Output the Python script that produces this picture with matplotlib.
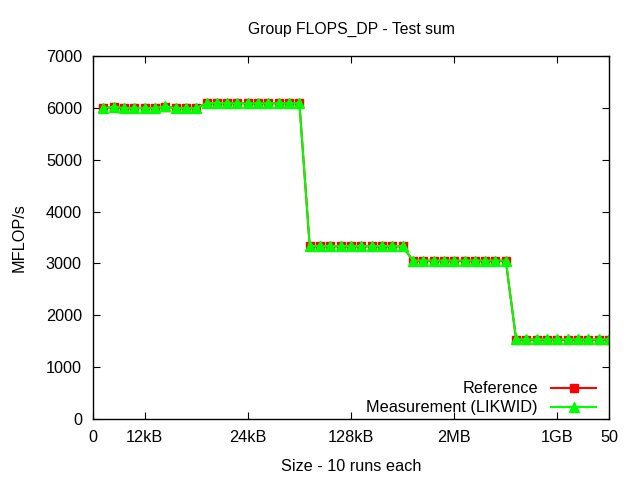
import numpy as np
import matplotlib
matplotlib.use("Agg")
import matplotlib.pyplot as plt

plt.rcParams['font.family'] = ['Liberation Sans', 'DejaVu Sans']

# run index 1..50, 10 runs per size
runs = np.arange(1, 51)

reference = [5990, 6020, 5990, 5995, 6000, 5995, 6025, 5995, 5995, 5995,
             6090, 6090, 6090, 6090, 6090, 6090, 6090, 6090, 6090, 6090,
             3330, 3330, 3330, 3330, 3330, 3330, 3330, 3330, 3330, 3330,
             3050, 3050, 3050, 3050, 3050, 3050, 3050, 3050, 3050, 3050,
             1530, 1530, 1530, 1530, 1530, 1530, 1530, 1530, 1530, 1530]
measurement = [5995, 6025, 5995, 5995, 6000, 5995, 6030, 5995, 5995, 5995,
               6090, 6095, 6090, 6090, 6090, 6090, 6090, 6090, 6090, 6090,
               3335, 3335, 3335, 3335, 3335, 3335, 3335, 3335, 3335, 3335,
               3055, 3055, 3055, 3055, 3055, 3055, 3055, 3055, 3055, 3055,
               1535, 1535, 1535, 1535, 1535, 1535, 1535, 1535, 1535, 1535]

xtick_pos = [0, 5, 15, 25, 35, 45, 50]
xtick_labels = ['0', '12kB', '24kB', '128kB', '2MB', '1GB', '50']

fs = 11.7

fig = plt.figure(figsize=(6.4, 4.8), dpi=100)
ax = fig.add_axes([0.1453, 0.1271, 0.8063, 0.7562])

ax.plot(runs, reference, color='#ff0000', marker='s', markersize=5.5,
        linewidth=1.5, label='Reference')
ax.plot(runs, measurement, color='#00ff00', marker='^', markersize=7,
        linewidth=1.5, label='Measurement (LIKWID)')

ax.set_xlim(0, 50)
ax.set_ylim(0, 7000)
ax.set_xticks(xtick_pos)
ax.set_xticklabels(xtick_labels)
ax.set_yticks(range(0, 7001, 1000))
ax.tick_params(direction='in', top=True, right=True, length=5, labelsize=fs, pad=8)
for s in ax.spines.values():
    s.set_linewidth(1.0)

ax.set_title('Group FLOPS_DP - Test sum', fontsize=11.3, pad=16)
ax.set_xlabel('Size - 10 runs each', fontsize=fs, labelpad=10)
ax.set_ylabel('MFLOP/s', fontsize=fs, labelpad=14)

leg = ax.legend(loc='lower right', frameon=False, fontsize=fs, markerfirst=False,
                handlelength=2.8, borderaxespad=0.0, labelspacing=0.25,
                bbox_to_anchor=(0.988, -0.008))

fig.savefig('out.png', dpi=100)
